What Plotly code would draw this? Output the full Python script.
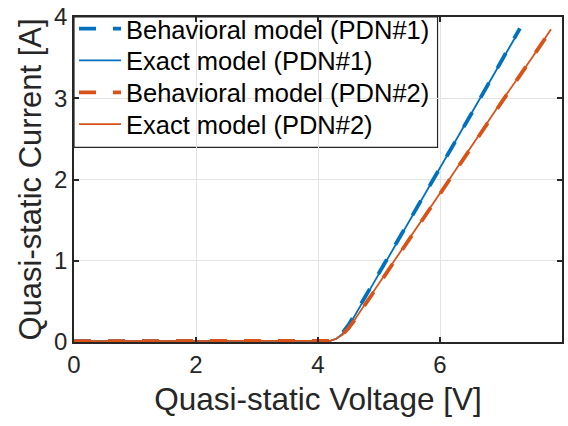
import plotly.graph_objects as go

# Data
v_beh1 = [0.0, 1.0, 2.0, 3.0, 4.0, 4.2, 4.3, 4.4, 4.5, 4.6, 4.8, 5.0, 5.5, 6.0, 6.5, 7.0, 7.31]
i_beh1 = [0.01, 0.01, 0.01, 0.01, 0.01, 0.015, 0.04, 0.11, 0.21, 0.33, 0.59, 0.85, 1.49, 2.14, 2.79, 3.45, 3.86]

v_ex1 = [0.0, 1.0, 2.0, 3.0, 4.0, 4.2, 4.3, 4.4, 4.5, 4.6, 4.8, 5.0, 5.5, 6.0, 6.5, 7.0, 7.31]
i_ex1 = [0.01, 0.01, 0.01, 0.01, 0.01, 0.015, 0.04, 0.10, 0.20, 0.32, 0.58, 0.84, 1.48, 2.13, 2.78, 3.44, 3.85]

v_beh2 = [0.0, 1.0, 2.0, 3.0, 4.0, 4.2, 4.3, 4.4, 4.5, 4.6, 4.8, 5.0, 5.5, 6.0, 6.5, 7.0, 7.5, 7.82]
i_beh2 = [0.01, 0.01, 0.01, 0.01, 0.01, 0.015, 0.04, 0.09, 0.17, 0.27, 0.49, 0.71, 1.26, 1.82, 2.38, 2.94, 3.48, 3.84]

v_ex2 = [0.0, 1.0, 2.0, 3.0, 4.0, 4.2, 4.3, 4.4, 4.5, 4.6, 4.8, 5.0, 5.5, 6.0, 6.5, 7.0, 7.5, 7.82]
i_ex2 = [0.01, 0.01, 0.01, 0.01, 0.01, 0.015, 0.04, 0.09, 0.17, 0.27, 0.50, 0.72, 1.27, 1.83, 2.39, 2.95, 3.49, 3.85]

x_ticks = [0, 2, 4, 6, 8]
y_ticks = [0, 1, 2, 3, 4]

names = ["Behavioral model (PDN#1)", "Exact model (PDN#1)",
         "Behavioral model (PDN#2)", "Exact model (PDN#2)"]

BLUE = "#0072BD"
ORANGE = "#D95319"
FONT = "Liberation Sans, Arial, sans-serif"
AX = "#262626"

legend_ids = ["legend", "legend2", "legend3", "legend4"]
row_y = [0.963, 0.865, 0.767, 0.669]   # paper y of each legend row

fig = go.Figure()
fig.add_trace(go.Scatter(x=v_beh1, y=i_beh1, mode="lines", name=names[0], legend=legend_ids[0],
                         line=dict(color=BLUE, width=3.8, dash="17px,17px")))
fig.add_trace(go.Scatter(x=v_ex1, y=i_ex1, mode="lines", name=names[1], legend=legend_ids[1],
                         line=dict(color=BLUE, width=1.8)))
fig.add_trace(go.Scatter(x=v_beh2, y=i_beh2, mode="lines", name=names[2], legend=legend_ids[2],
                         line=dict(color=ORANGE, width=3.8, dash="17px,17px")))
fig.add_trace(go.Scatter(x=v_ex2, y=i_ex2, mode="lines", name=names[3], legend=legend_ids[3],
                         line=dict(color=ORANGE, width=1.8)))

axis_common = dict(
    showline=True, linecolor=AX, linewidth=1.5, mirror="ticks",
    ticks="inside", ticklen=5, tickwidth=1.5, tickcolor=AX,
    showgrid=True, gridcolor="#e3e3e3", gridwidth=1,
    zeroline=False, automargin=False,
    tickfont=dict(family=FONT, size=24, color=AX),
)

legend_layout = {}
for lid, ry in zip(legend_ids, row_y):
    legend_layout[lid] = dict(x=0, y=ry, xanchor="left", yanchor="middle",
                              bgcolor="rgba(0,0,0,0)", borderwidth=0,
                              font=dict(family=FONT, size=25.5, color="black"),
                              itemwidth=42)

fig.update_layout(
    width=568, height=426,
    margin=dict(l=74, r=6, t=15, b=84),
    paper_bgcolor="white", plot_bgcolor="white",
    font=dict(family=FONT, color=AX),
    xaxis=dict(range=[0, 8], tickvals=x_ticks, ticktext=[str(t) for t in x_ticks],
               title=dict(text="Quasi-static Voltage [V]", font=dict(family=FONT, size=31.5, color=AX),
                          standoff=11),
               **axis_common),
    yaxis=dict(range=[0, 4], tickvals=y_ticks, ticktext=[str(t) for t in y_ticks],
               title=dict(text="Quasi-static Current [A]", font=dict(family=FONT, size=31, color=AX),
                          standoff=3),
               **axis_common),
    showlegend=True,
    **legend_layout,
)

# Legend frame (white box with dark border) behind the legend entries
box = dict(type="rect", xref="paper", yref="paper", x0=0, x1=0.745, y0=0.599, y1=1,
           line=dict(color=AX, width=1.2), fillcolor="white")
try:
    fig.add_shape(layer="between", **box)
except Exception:
    fig.add_shape(layer="below", **box)

fig.write_html("out.html")
